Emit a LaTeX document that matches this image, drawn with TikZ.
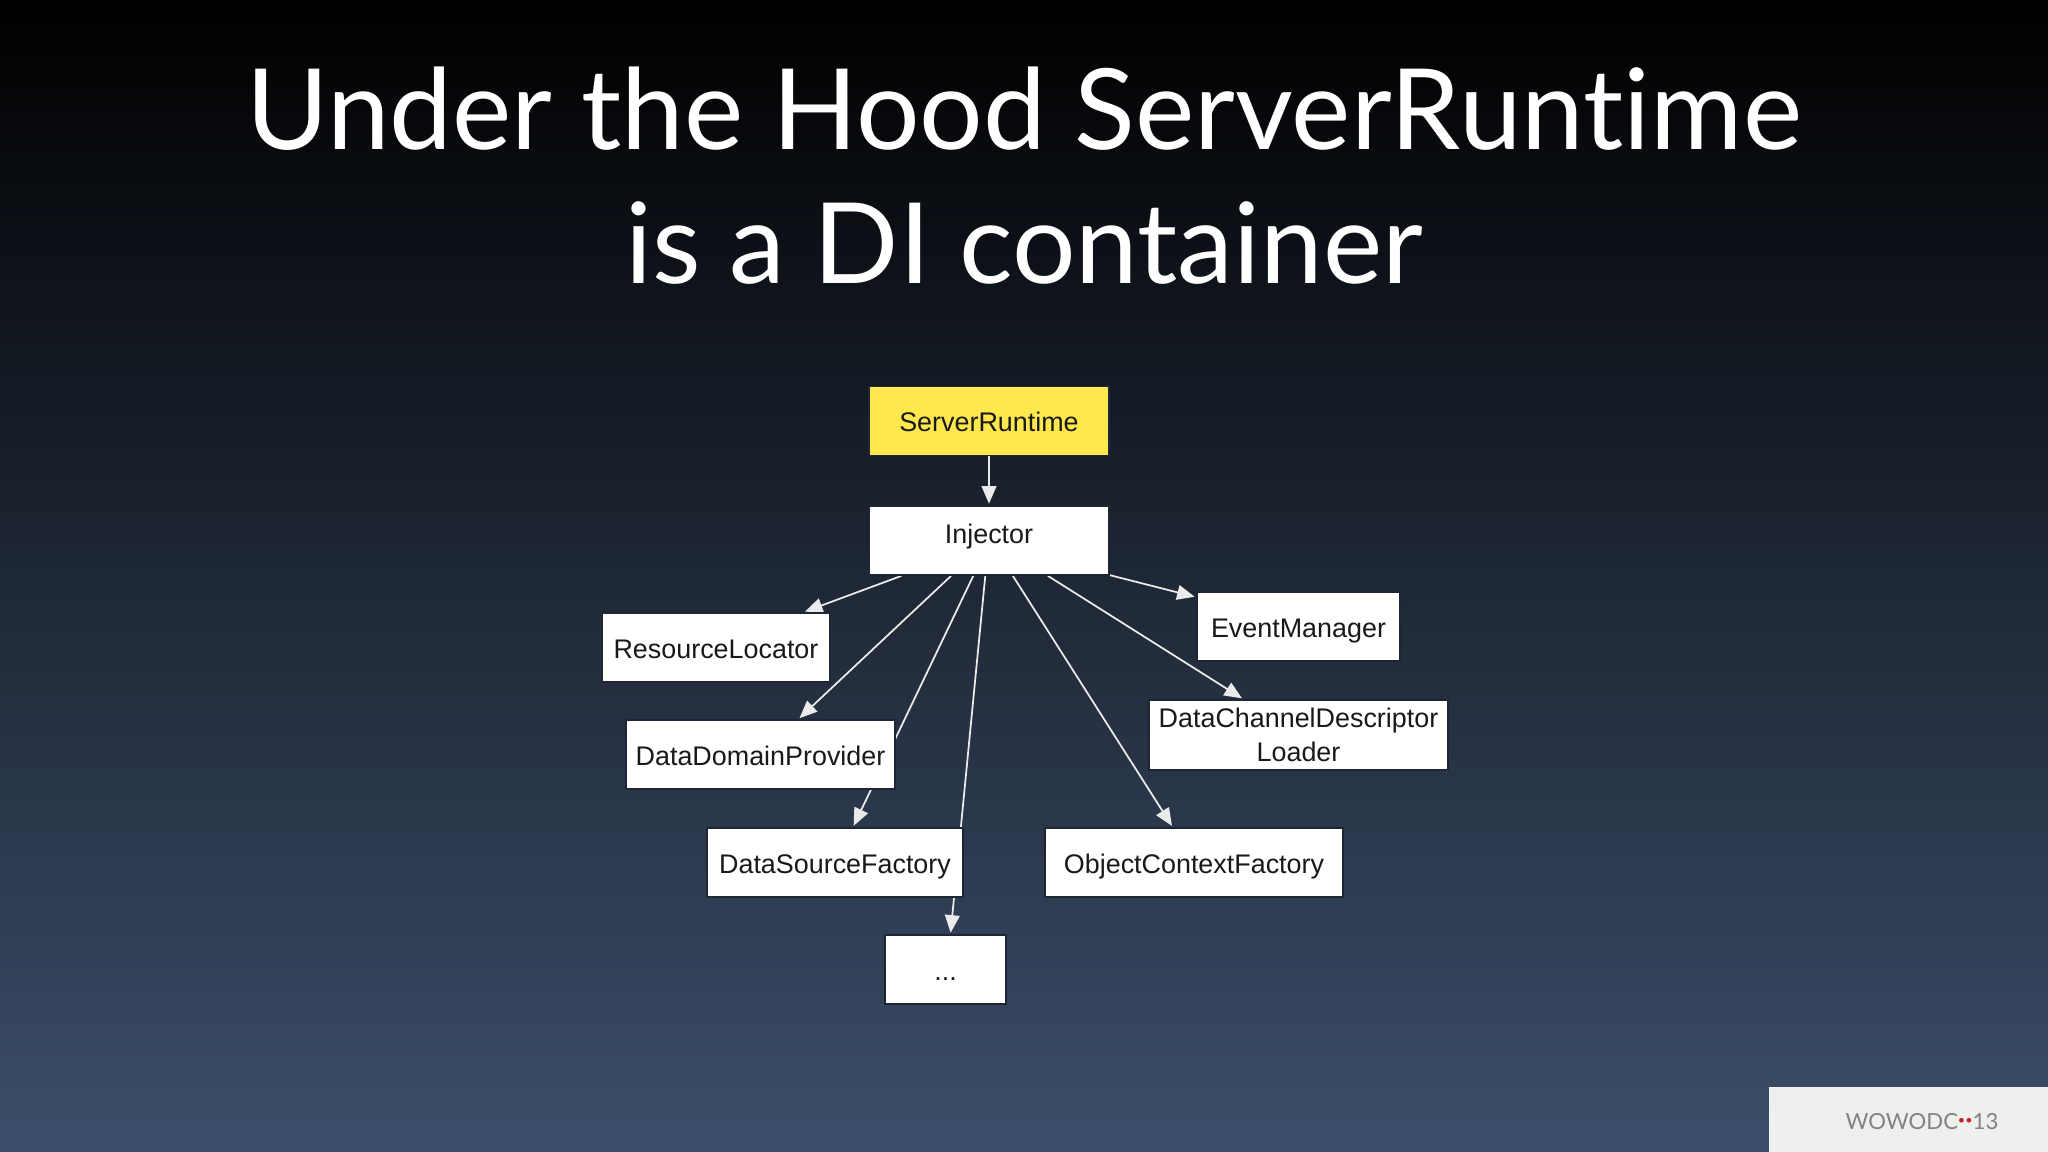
\documentclass[tikz,border=0pt]{standalone}
\usepackage{fontspec}
\setmainfont{Liberation Sans}
\newfontfamily\titlefont[Ligatures=NoCommon]{Lato}
\usetikzlibrary{arrows.meta}
\pgfdeclarelayer{backdrop}
\pgfdeclarelayer{edges}
\pgfsetlayers{backdrop,edges,main}
\definecolor{bgbottom}{RGB}{60,78,106}
\definecolor{boxyellow}{RGB}{255,232,77}
\definecolor{boxedge}{RGB}{30,38,52}
\definecolor{panelgray}{RGB}{238,240,238}
\definecolor{logogray}{RGB}{130,130,130}
\definecolor{logored}{RGB}{200,30,30}
\tikzset{
    box/.style={draw=boxedge,line width=0.5pt,fill=white,inner sep=0pt,minimum height=0.69cm,font=\fontsize{7.65}{9.6}\selectfont,text=black!90},
    boxline/.style={box,text height=6.1pt,text depth=0pt},
    edge/.style={draw=white!92!black,line width=0.5pt,-{Triangle[length=5pt,width=4.2pt]},shorten >=0.4pt},
    titletext/.style={anchor=base,text=white,font=\titlefont\fontsize{31.9}{38}\selectfont}
}
\begin{document}
\begin{tikzpicture}[x=0.01cm,y=-0.01cm]
    \useasboundingbox (0,0) rectangle (2048,1152);
    \begin{pgfonlayer}{backdrop}
        \shade[top color=black,bottom color=bgbottom] (0,0) rectangle (2048,1152);
    \end{pgfonlayer}
    \node[titletext] (title1) at (1024,150) {Under the Hood ServerRuntime};
    \node[titletext] (title2) at (1024,284) {is a DI container};
    \node[boxline,fill=boxyellow,minimum width=2.40cm] (runtime) at (989,421) {ServerRuntime};
    \node[boxline,minimum width=2.40cm,text depth=4.46pt] (injector) at (989,540.5) {Injector};
    \node[boxline,minimum width=2.28cm] (locator) at (716,647.5) {ResourceLocator};
    \node[boxline,minimum width=2.69cm] (domain) at (760.5,754.5) {DataDomainProvider};
    \node[boxline,minimum width=2.56cm] (source) at (835,862.5) {DataSourceFactory};
    \node[boxline,minimum width=1.21cm] (more) at (945.5,969.5) {...};
    \node[boxline,minimum width=2.98cm] (context) at (1194,862.5) {ObjectContextFactory};
    \node[box,minimum width=2.99cm,minimum height=0.70cm,align=center] (loader) at (1298.5,735) {DataChannelDescriptor\\Loader};
    \node[boxline,minimum width=2.03cm] (events) at (1298.5,626.5) {EventManager};
    \begin{pgfonlayer}{edges}
        \draw[edge] (runtime.south) -- (injector.north);
        \draw[edge] (injector.-158.8) -- (locator.22.1);
        \draw[edge] (injector.-137.8) -- (domain.43.8);
        \draw[edge] (injector.-114.9) -- (source.63);
        \draw[edge] (injector.-96.6) -- (more.82);
        \draw[edge] (injector.-56.3) -- (context.121.5);
        \draw[edge] (injector.-31.6) -- (loader.147.5);
        \draw[edge] (injector.-16) -- (events.164.8);
    \end{pgfonlayer}
    \fill[panelgray] (1769,1087) rectangle (2048,1152);
    \node[text=logogray,font=\titlefont\fontsize{6.3}{8}\selectfont,inner sep=0pt] (logo) at (1922,1122) {WOWODC\textcolor{logored}{\raisebox{1.5pt}{\fontsize{3.6}{8}\selectfont ••}}13};
\end{tikzpicture}
\end{document}
